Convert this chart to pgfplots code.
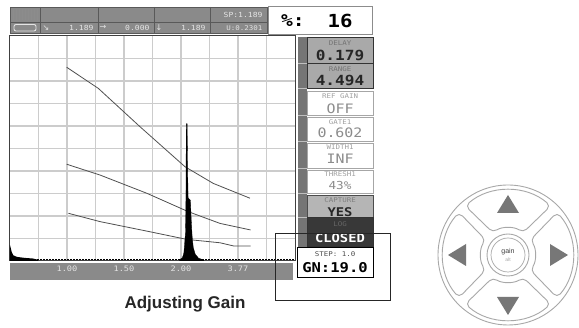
\documentclass[border=0pt]{standalone}
\usepackage{pgfplots}
\pgfplotsset{compat=1.18}
\usepackage{fontspec}
\setmainfont{Liberation Sans}
\newfontfamily\lcd[FakeStretch=1.15]{DejaVu Sans Mono}
\newfontfamily\sym{DejaVu Sans}
\definecolor{hdr}{HTML}{8A8A8A}
\definecolor{hdrtxt}{HTML}{E4E4E4}
\definecolor{btn}{HTML}{A9A9A9}
\definecolor{btnlight}{HTML}{B5B5B5}
\definecolor{btndark}{HTML}{383838}
\definecolor{faint}{HTML}{A0A0A0}
\definecolor{keyline}{HTML}{A8A8A8}
\definecolor{keytri}{HTML}{777777}
\definecolor{dac}{HTML}{505050}
\newcommand{\fs}[1]{\fontsize{#1}{#1}\selectfont}

\begin{document}
\begin{tikzpicture}
\useasboundingbox (0,0) rectangle (579pt,328pt);

% strip under the scan (tick labels sit on it)
\begin{scope}[shift={(0pt,328pt)}, x=1pt, y=-1pt]
  \fill[hdr] (10,263) rectangle (293,280);
\end{scope}

\begin{axis}[at={(10pt,67pt)}, anchor=south west, scale only axis,
  width=285pt, height=225pt,
  xmin=0, xmax=10, ymin=0, ymax=100,
  xtick={2,4,6,8}, xticklabels={1.00,1.50,2.00,3.77},
  minor xtick={1,3,5,7,9},
  ytick={10,20,...,90}, yticklabels={},
  grid=both,
  major grid style={draw=black!20, line width=1.3pt},
  minor grid style={draw=black!20, line width=1.3pt},
  tick style={draw=none},
  axis line style={draw=black!75, line width=1pt},
  xticklabel style={font=\lcd\fs{7.5}, text=hdrtxt, yshift=-1.5pt},
  axis background/.style={fill=white},
]
% initial pulse
\addplot[draw=none, fill=black] coordinates {
  (0,7) (0.06,4) (0.12,2.5) (0.25,1.8) (0.5,1.4) (0.8,1.1) (1.0,0.5)} \closedcycle;
% baseline
\addplot[black, line width=1.2pt, dash pattern=on 2pt off 1pt] coordinates {(0,0.5) (10,0.5)};
% DAC curves
\addplot[dac, line width=0.8pt] coordinates {
  (1.99,86.1) (3.10,76.7) (4.56,59.7) (6.14,41.9) (7.13,34.5) (8.42,27.9)};
\addplot[dac, line width=0.8pt] coordinates {
  (1.99,43.0) (3.16,38.2) (4.80,30.1) (6.26,21.9) (7.37,16.7) (8.44,13.8)};
\addplot[dac, line width=0.8pt] coordinates {
  (2.05,21.2) (3.16,17.5) (4.91,13.0) (6.20,9.6) (7.37,8.1) (7.84,6.7) (8.44,6.7)};
% echo
\addplot[fill=black, draw=black, line width=0.3pt] coordinates {
  (5.95,0.5) (6.05,1.5) (6.10,3.5) (6.13,8) (6.16,13) (6.175,30) (6.185,61)
  (6.215,61) (6.23,42) (6.25,28) (6.33,27) (6.36,18) (6.39,11) (6.43,6)
  (6.50,3) (6.62,1.2) (6.80,0.5)} \closedcycle;
\end{axis}

\begin{scope}[shift={(0pt,328pt)}, x=1pt, y=-1pt]
  % header
  \fill[hdr] (10,7) rectangle (267,33);
  \draw[black!65, line width=0.8pt] (10,7) rectangle (267,33);
  \draw[black!65, line width=0.8pt] (10,22) -- (267,22);
  \foreach \x in {40,98,154,210} \draw[black!65, line width=0.8pt] (\x,7) -- (\x,33);
  \foreach \x in {13,16,...,37} \draw[black!45, line width=0.6pt] (\x,9) -- (\x,20);
  \draw[hdrtxt, line width=0.9pt, rounded corners=2pt] (14,24.5) rectangle (36,31);
  \node[text=hdrtxt, font=\lcd\fs{7}, anchor=east] at (266,14.5) {SP:1.189};
  \node[text=hdrtxt, font=\sym\fs{8}] at (46,28) {↘};
  \node[text=hdrtxt, font=\lcd\fs{7}, anchor=east] at (97,28) {1.189};
  \node[text=hdrtxt, font=\sym\fs{8}] at (103,27.5) {→};
  \node[text=hdrtxt, font=\lcd\fs{7}, anchor=east] at (153,28) {0.000};
  \node[text=hdrtxt, font=\sym\fs{8}] at (159,27.5) {↓};
  \node[text=hdrtxt, font=\lcd\fs{7}, anchor=east] at (209,28) {1.189};
  \node[text=hdrtxt, font=\lcd\fs{6.5}, anchor=east] at (266,28) {U:0.2301};
  % percent box
  \filldraw[fill=white, draw=black!45, line width=1pt] (268,7) rectangle (372,35);
  \node[font=\lcd\bfseries\fs{17}, anchor=west, inner sep=0pt] at (281,21) {\%:};
  \node[font=\lcd\bfseries\fs{18}] at (340,21) {16};
  % side strip
  \fill[hdr!85!black] (298,37) rectangle (307,248);
  \foreach \y in {63,88,115,141,168,193,217}
    \draw[black!25, line width=0.6pt] (298,\y) -- (307,\y);
  % gray buttons
  \filldraw[fill=btn, draw=black!80, line width=0.8pt] (307,37) rectangle (373,63);
  \node[font=\lcd\fs{6.5}, text=black!55] at (340,43) {DELAY};
  \node[font=\lcd\bfseries\fs{14}, text=black!85] at (340,55.5) {0.179};
  \filldraw[fill=btn, draw=black!80, line width=0.8pt] (307,63) rectangle (373,88);
  \node[font=\lcd\fs{6.5}, text=black!55] at (340,69.5) {RANGE};
  \node[font=\lcd\bfseries\fs{14}, text=black!85] at (340,80.5) {4.494};
  % white buttons
  \filldraw[fill=white, draw=black!35, line width=0.8pt] (307,91) rectangle (373,115);
  \node[font=\lcd\fs{6.5}, text=faint] at (340,96) {REF GAIN};
  \node[font=\lcd\fs{13}, text=black!45] at (340,109) {OFF};
  \filldraw[fill=white, draw=black!35, line width=0.8pt] (307,117) rectangle (373,141);
  \node[font=\lcd\fs{6.5}, text=faint] at (340,122) {GATE1};
  \node[font=\lcd\fs{13}, text=black!45] at (340,133) {0.602};
  \filldraw[fill=white, draw=black!35, line width=0.8pt] (307,143) rectangle (373,168);
  \node[font=\lcd\fs{6.5}, text=faint] at (340,147.5) {WIDTH1};
  \node[font=\lcd\fs{13}, text=black!45] at (340,159) {INF};
  \filldraw[fill=white, draw=black!35, line width=0.8pt] (307,170) rectangle (373,193);
  \node[font=\lcd\fs{6.5}, text=faint] at (340,174.5) {THRESH1};
  \node[font=\lcd\fs{11}, text=black!45] at (340,186) {43\%};
  % capture / log
  \filldraw[fill=btnlight, draw=black!70, line width=0.8pt] (307,195) rectangle (373,217);
  \node[font=\lcd\fs{6.5}, text=black!50] at (340,200.5) {CAPTURE};
  \node[font=\lcd\bfseries\fs{12}, text=black!85] at (340,212) {YES};
  \filldraw[fill=btndark, draw=black!80, line width=0.8pt] (307,217) rectangle (373,246);
  \node[font=\lcd\fs{6.5}, text=black!60] at (340,224.5) {LOG};
  \node[font=\lcd\bfseries\fs{12}, text=white] at (340,238) {CLOSED};
  % step box
  \filldraw[fill=white, draw=black, line width=1pt] (297,248) rectangle (373,278);
  \node[font=\lcd\fs{6.5}, text=black!70] at (335,254) {STEP: 1.0};
  \node[font=\lcd\bfseries\fs{13.5}, text=black] at (335,267.5) {GN:19.0};
  % callout
  \draw[black!85, line width=0.9pt] (275,233) rectangle (390,300);
  % caption
  \node[font=\bfseries\fs{17}, text=black!85, anchor=base] at (185,309) {Adjusting Gain};
  % keypad
  \filldraw[fill=white, draw=keyline, line width=0.9pt] (508,255) circle[radius=70];
  \foreach \a in {0,90,180,270} {
    \filldraw[fill=white, draw=keyline, line width=0.9pt, rounded corners=5pt, shift={(508,255)}]
      ({\a-41}:65) arc[start angle={\a-41}, end angle={\a+41}, radius=65]
      -- ({\a+34}:27) arc[start angle={\a+34}, end angle={\a-34}, radius=27] -- cycle;
  }
  \foreach \a in {0,90,180,270}
    \fill[keytri, shift={(508,255)}, rotate=\a] (60,0) -- (42,11) -- (42,-11) -- cycle;
  \filldraw[fill=white, draw=keyline, line width=0.9pt] (508,255) circle[radius=21];
  \draw[keyline, line width=0.7pt] (508,255) circle[radius=17];
  \node[font=\fs{7}, text=black!75] at (508,251.5) {gain};
  \node[font=\fs{5}, text=black!35] at (508,259.5) {alt};
\end{scope}
\end{tikzpicture}
\end{document}
